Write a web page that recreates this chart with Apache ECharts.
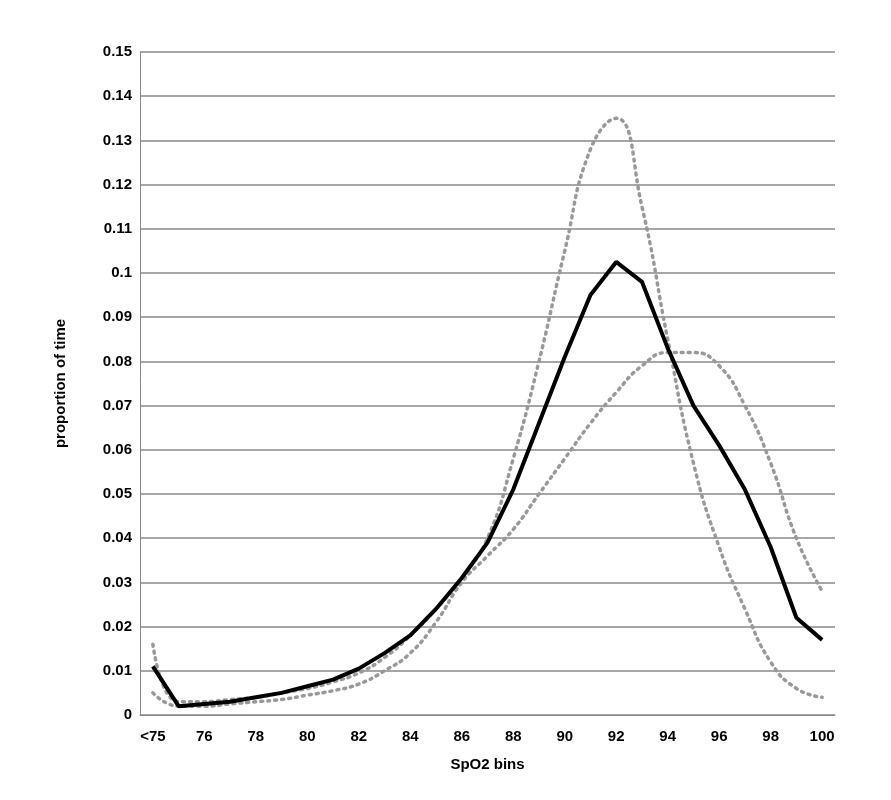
<!DOCTYPE html>
<html><head><meta charset="utf-8">
<script src="https://cdn.jsdelivr.net/npm/echarts@6/dist/echarts.min.js"></script>
<style>html,body{margin:0;background:#fff}#c{width:891px;height:800px}</style>
</head><body><div id="c"></div>
<script>
const categories = ['<75','75','76','77','78','79','80','81','82','83','84','85','86','87','88','89','90','91','92','93','94','95','96','97','98','99','100'];
const solidSeries = [0.011,0.002,0.0025,0.003,0.004,0.005,0.0065,0.008,0.0105,0.014,0.018,0.024,0.031,0.039,0.051,0.066,0.081,0.095,0.1025,0.098,0.083,0.07,0.061,0.051,0.038,0.022,0.017];
const narrowDotted = [0.016,0.003,0.003,0.0035,0.004,0.005,0.006,0.0075,0.0095,0.013,0.018,0.024,0.031,0.04,0.058,0.08,0.105,0.128,0.135,0.115,0.085,0.057,0.038,0.024,0.012,0.006,0.004];
const wideDotted = [0.005,0.002,0.002,0.0025,0.003,0.0035,0.0045,0.0055,0.007,0.01,0.014,0.021,0.03,0.036,0.042,0.05,0.058,0.066,0.073,0.079,0.082,0.082,0.079,0.07,0.057,0.04,0.028];
const chart = echarts.init(document.getElementById('c'));
const f = {fontFamily:'Liberation Sans',fontWeight:'bold',fontSize:15,color:'#000'};
chart.setOption({
  animation:false,
  grid:{left:140,right:56,top:52,bottom:85},
  xAxis:{type:'category',data:categories,boundaryGap:true,name:'SpO2 bins',nameLocation:'middle',nameGap:42,nameTextStyle:f,
    axisLine:{lineStyle:{color:'#888'}},axisTick:{show:false},axisLabel:Object.assign({interval:1,margin:14},f)},
  yAxis:{type:'value',min:0,max:0.15,interval:0.01,name:'proportion of time',nameLocation:'middle',nameGap:72,nameTextStyle:f,
    axisLine:{show:true,lineStyle:{color:'#888'}},splitLine:{lineStyle:{color:'#888',width:1.5}},
    axisLabel:Object.assign({formatter:v=>String(+v.toFixed(2))},f)},
  series:[
    {type:'line',data:narrowDotted,smooth:true,symbol:'none',lineStyle:{color:'#999',width:3.5,type:[2,5],cap:'round'}},
    {type:'line',data:wideDotted,smooth:true,symbol:'none',lineStyle:{color:'#999',width:3.5,type:[2,5],cap:'round'}},
    {type:'line',data:solidSeries,symbol:'none',lineStyle:{color:'#000',width:4}}
  ]
});
</script></body></html>
